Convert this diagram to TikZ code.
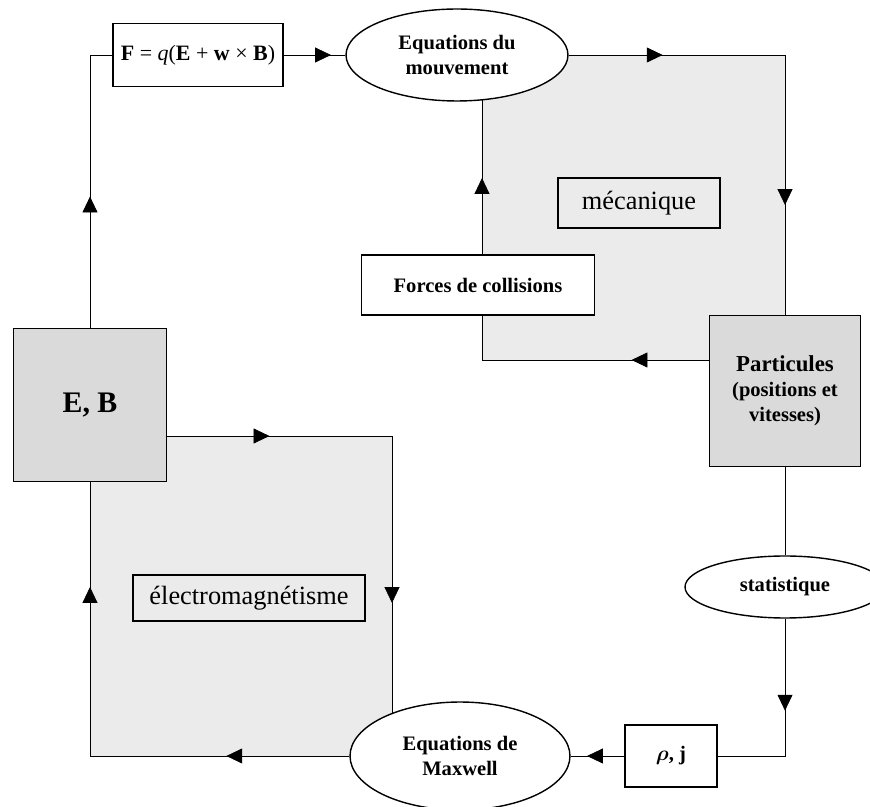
\documentclass[tikz,border=0pt]{standalone}
\usepackage{amsmath}
\usepackage{fontspec}
\setmainfont{Liberation Serif}
\usetikzlibrary{shapes.geometric,arrows.meta,decorations.markings,backgrounds}
\definecolor{zonegray}{RGB}{235,235,235}
\definecolor{boxgray}{RGB}{218,218,218}
\tikzset{
  arr/.style={postaction={decorate},decoration={markings,mark=at position #1 with {\arrow{Triangle[length=9pt,width=8.5pt]}}}},
  bx/.style={draw,line width=1.1pt,fill=white,inner sep=0pt,align=center},
  ell/.style={ellipse,draw,line width=0.8pt,fill=white,inner sep=0pt,align=center},
  bf/.style={font=\fontsize{11.7}{14.2}\selectfont\bfseries},
  big/.style={font=\fontsize{15}{17}\selectfont}
}
\begin{document}
\begin{tikzpicture}[x=0.02cm,y=-0.02cm,line width=1.25pt]
\useasboundingbox (0,0) rectangle (870,807);

\node[bx,minimum width=3.4cm,minimum height=1.26cm,font=\fontsize{12.5}{14}\selectfont] (force) at (198,55) {\textbf{F} = \textit{q}(\textbf{E} + \textbf{w} × \textbf{B})};
\node[ell,bf,minimum width=4.44cm,minimum height=1.84cm] (eqmvt) at (457,55) {Equations du\\mouvement};
\node[bx,bf,minimum width=4.66cm,minimum height=1.2cm] (coll) at (478,285) {Forces de collisions};
\node[bx,big,fill=zonegray,minimum width=3.24cm,minimum height=1cm] (meca) at (639,203) {mécanique};
\node[bx,bf,fill=boxgray,minimum width=3.02cm,minimum height=3.02cm] (part) at (785,391) {{\fontsize{13}{14}\selectfont Particules}\\(positions et\\vitesses)};
\node[ell,bf,minimum width=4cm,minimum height=1.24cm] (stat) at (785,587) {statistique};
\node[bx,bf,minimum width=1.84cm,minimum height=1.24cm] (rhoj) at (671,756) {$\boldsymbol{\rho}$, j};
\node[ell,bf,minimum width=4.4cm,minimum height=2.16cm] (maxw) at (460,756) {Equations de\\Maxwell};
\node[bx,big,fill=zonegray,line width=0.9pt,minimum width=4.64cm,minimum height=0.92cm] (em) at (249,598) {électromagnétisme};
\node[bx,fill=boxgray,minimum width=3.06cm,minimum height=3.06cm,font=\fontsize{17}{19}\selectfont\bfseries] (eb) at (90,405) {E, B};

\coordinate (mecatr) at (785,55);
\coordinate (mecabl) at (482,360);
\coordinate (emtr) at (392,436);
\coordinate (embl) at (90,756);

\begin{scope}[on background layer]
\fill[zonegray] (482,55) rectangle (785,360);
\fill[zonegray] (90,436) rectangle (392,756);
% boucle mecanique
\draw[arr=2.62cm] (eb.north) |- (force.west);
\draw[arr=0.94cm] (force.east) -- (eqmvt.west);
\draw[arr=1.88cm] (eqmvt.east) -- (mecatr);
\draw[arr=3cm] (mecatr) -- (part.north);
\draw[arr=1.54cm] (mecabl -| part.west) -- (mecabl);
\draw[arr=3.64cm] (mecabl) -- (eqmvt.center -| mecabl);
% boucle electromagnetique
\draw (part.south) -- (stat.north);
\draw[arr=1.84cm] (stat.south) |- (rhoj.east);
\draw[arr=0.74cm] (rhoj.west) -- (maxw.east);
\draw[arr=2.46cm] (maxw.west) -- (embl);
\draw[arr=3.38cm] (embl) -- (eb.south);
\draw[arr=2.04cm] (eb.east |- emtr) -- (emtr);
\draw[arr=3.34cm] (emtr) -- (maxw.center -| emtr);
\end{scope}
\end{tikzpicture}
\end{document}
